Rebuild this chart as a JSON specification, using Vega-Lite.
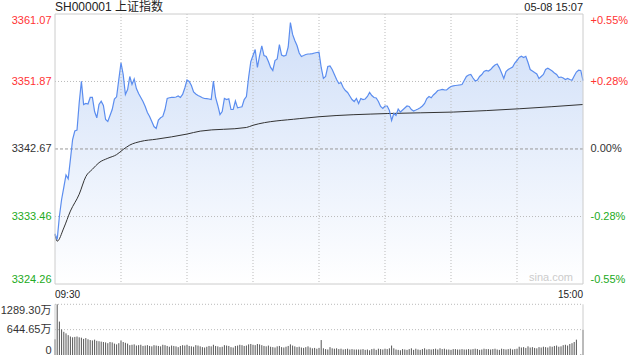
{
  "$schema": "https://vega.github.io/schema/vega-lite/v6.json",
  "width": 528,
  "height": 341,
  "autosize": {"type": "none"},
  "padding": {"left": 55, "top": 14, "right": 57, "bottom": 5},
  "background": "white",
  "config": {
    "view": {"stroke": null},
    "font": "Liberation Sans, Noto Sans CJK SC, sans-serif",
    "axis": {"labelFont": "Liberation Sans, Noto Sans CJK SC, sans-serif", "labelFontSize": 11, "labelColor": "#333333", "ticks": false, "domain": false, "grid": false, "title": null}
  },
  "datasets": {
    "m": [
      {"t":0,"p":3331.10,"v":400},{"t":1,"p":3330.33,"v":1289.3},{"t":2,"p":3333.50,"v":850},{"t":3,"p":3335.78,"v":650},{"t":4,"p":3337.42,"v":590},
      {"t":5,"p":3339.12,"v":550},{"t":6,"p":3338.60,"v":505},{"t":7,"p":3341.23,"v":470},{"t":8,"p":3343.96,"v":450},{"t":9,"p":3345.12,"v":460},
      {"t":10,"p":3345.23,"v":470},{"t":11,"p":3348.96,"v":450},{"t":12,"p":3351.91,"v":440},{"t":13,"p":3348.73,"v":410},{"t":14,"p":3348.87,"v":430},
      {"t":15,"p":3348.80,"v":400},{"t":16,"p":3349.69,"v":380},{"t":17,"p":3349.69,"v":370},{"t":18,"p":3347.78,"v":390},{"t":19,"p":3346.92,"v":360},
      {"t":20,"p":3348.73,"v":350},{"t":21,"p":3349.18,"v":340},{"t":22,"p":3348.60,"v":330},{"t":23,"p":3346.69,"v":320},{"t":24,"p":3346.41,"v":300},
      {"t":25,"p":3347.23,"v":330},{"t":26,"p":3348.05,"v":320},{"t":27,"p":3349.48,"v":290},{"t":28,"p":3349.78,"v":270},{"t":29,"p":3352.14,"v":300},
      {"t":30,"p":3354.42,"v":370},{"t":31,"p":3352.82,"v":330},{"t":32,"p":3350.10,"v":310},{"t":33,"p":3350.78,"v":290},{"t":34,"p":3352.55,"v":250},
      {"t":35,"p":3351.46,"v":260},{"t":36,"p":3352.21,"v":270},{"t":37,"p":3350.91,"v":240},{"t":38,"p":3350.23,"v":250},{"t":39,"p":3349.69,"v":260},
      {"t":40,"p":3349.14,"v":230},{"t":41,"p":3348.46,"v":240},{"t":42,"p":3347.64,"v":250},{"t":43,"p":3347.10,"v":230},{"t":44,"p":3346.41,"v":220},
      {"t":45,"p":3345.73,"v":250},{"t":46,"p":3345.46,"v":240},{"t":47,"p":3346.62,"v":230},{"t":48,"p":3346.92,"v":220},{"t":49,"p":3347.10,"v":260},
      {"t":50,"p":3348.05,"v":250},{"t":51,"p":3349.55,"v":230},{"t":52,"p":3349.65,"v":210},{"t":53,"p":3349.69,"v":240},{"t":54,"p":3349.69,"v":230},
      {"t":55,"p":3349.75,"v":220},{"t":56,"p":3349.89,"v":200},{"t":57,"p":3349.69,"v":230},{"t":58,"p":3350.10,"v":250},{"t":59,"p":3350.98,"v":240},
      {"t":60,"p":3352.07,"v":260},{"t":61,"p":3351.87,"v":230},{"t":62,"p":3351.32,"v":220},{"t":63,"p":3350.44,"v":210},{"t":64,"p":3350.16,"v":250},
      {"t":65,"p":3349.96,"v":240},{"t":66,"p":3349.82,"v":220},{"t":67,"p":3349.65,"v":200},{"t":68,"p":3349.55,"v":190},{"t":69,"p":3349.52,"v":210},
      {"t":70,"p":3349.48,"v":230},{"t":71,"p":3349.41,"v":220},{"t":72,"p":3351.91,"v":260},{"t":73,"p":3349.69,"v":230},{"t":74,"p":3348.60,"v":220},
      {"t":75,"p":3347.37,"v":200},{"t":76,"p":3347.78,"v":210},{"t":77,"p":3349.55,"v":250},{"t":78,"p":3349.41,"v":240},{"t":79,"p":3349.51,"v":230},
      {"t":80,"p":3348.05,"v":200},{"t":81,"p":3348.05,"v":190},{"t":82,"p":3349.21,"v":230},{"t":83,"p":3348.28,"v":240},{"t":84,"p":3348.36,"v":260},
      {"t":85,"p":3348.42,"v":250},{"t":86,"p":3349.41,"v":230},{"t":87,"p":3349.82,"v":240},{"t":88,"p":3352.41,"v":270},{"t":89,"p":3354.59,"v":280},
      {"t":90,"p":3355.41,"v":260},{"t":91,"p":3356.23,"v":250},{"t":92,"p":3353.78,"v":280},{"t":93,"p":3355.41,"v":270},{"t":94,"p":3356.71,"v":250},
      {"t":95,"p":3355.41,"v":230},{"t":96,"p":3355.28,"v":220},{"t":97,"p":3354.59,"v":240},{"t":98,"p":3353.78,"v":210},{"t":99,"p":3353.37,"v":200},
      {"t":100,"p":3354.73,"v":190},{"t":101,"p":3354.94,"v":220},{"t":102,"p":3356.91,"v":230},{"t":103,"p":3355.48,"v":200},{"t":104,"p":3355.34,"v":190},
      {"t":105,"p":3355.45,"v":210},{"t":106,"p":3356.57,"v":230},{"t":107,"p":3359.91,"v":270},{"t":108,"p":3358.28,"v":240},{"t":109,"p":3357.46,"v":220},
      {"t":110,"p":3356.78,"v":200},{"t":111,"p":3355.75,"v":210},{"t":112,"p":3355.28,"v":190},{"t":113,"p":3355.41,"v":180},{"t":114,"p":3355.55,"v":200},
      {"t":115,"p":3355.62,"v":220},{"t":116,"p":3355.64,"v":190},{"t":117,"p":3355.68,"v":170},{"t":118,"p":3355.75,"v":180},{"t":119,"p":3355.82,"v":160},
      {"t":120,"p":3355.86,"v":180},{"t":121,"p":3353.78,"v":380},{"t":122,"p":3352.28,"v":170},{"t":123,"p":3352.55,"v":150},{"t":124,"p":3353.91,"v":140},
      {"t":125,"p":3353.98,"v":200},{"t":126,"p":3353.50,"v":170},{"t":127,"p":3352.82,"v":160},{"t":128,"p":3352.14,"v":170},{"t":129,"p":3351.59,"v":150},
      {"t":130,"p":3351.73,"v":160},{"t":131,"p":3351.05,"v":140},{"t":132,"p":3350.64,"v":150},{"t":133,"p":3350.37,"v":160},{"t":134,"p":3349.89,"v":140},
      {"t":135,"p":3349.41,"v":150},{"t":136,"p":3349.14,"v":140},{"t":137,"p":3349.55,"v":140},{"t":138,"p":3348.87,"v":140},{"t":139,"p":3349.55,"v":140},
      {"t":140,"p":3349.41,"v":150},{"t":141,"p":3349.48,"v":130},{"t":142,"p":3349.82,"v":140},{"t":143,"p":3350.37,"v":120},{"t":144,"p":3349.96,"v":150},
      {"t":145,"p":3349.69,"v":160},{"t":146,"p":3349.62,"v":130},{"t":147,"p":3349.14,"v":160},{"t":148,"p":3348.46,"v":150},{"t":149,"p":3348.19,"v":140},
      {"t":150,"p":3348.53,"v":160},{"t":151,"p":3348.53,"v":150},{"t":152,"p":3347.91,"v":170},{"t":153,"p":3346.55,"v":240},{"t":154,"p":3347.51,"v":170},
      {"t":155,"p":3347.23,"v":140},{"t":156,"p":3348.12,"v":130},{"t":157,"p":3347.71,"v":120},{"t":158,"p":3347.98,"v":150},{"t":159,"p":3348.25,"v":140},
      {"t":160,"p":3348.53,"v":130},{"t":161,"p":3348.46,"v":150},{"t":162,"p":3348.05,"v":170},{"t":163,"p":3347.85,"v":130},{"t":164,"p":3347.98,"v":160},
      {"t":165,"p":3348.12,"v":140},{"t":166,"p":3348.28,"v":130},{"t":167,"p":3348.53,"v":150},{"t":168,"p":3348.87,"v":170},{"t":169,"p":3349.55,"v":140},
      {"t":170,"p":3349.82,"v":150},{"t":171,"p":3349.65,"v":140},{"t":172,"p":3350.03,"v":150},{"t":173,"p":3350.30,"v":160},{"t":174,"p":3350.64,"v":140},
      {"t":175,"p":3350.71,"v":170},{"t":176,"p":3350.78,"v":150},{"t":177,"p":3350.73,"v":160},{"t":178,"p":3350.71,"v":140},{"t":179,"p":3350.98,"v":140},
      {"t":180,"p":3351.19,"v":130},{"t":181,"p":3351.26,"v":150},{"t":182,"p":3351.32,"v":150},{"t":183,"p":3351.36,"v":140},{"t":184,"p":3351.40,"v":140},
      {"t":185,"p":3351.46,"v":150},{"t":186,"p":3352.00,"v":140},{"t":187,"p":3352.55,"v":140},{"t":188,"p":3352.75,"v":150},{"t":189,"p":3352.82,"v":140},
      {"t":190,"p":3352.34,"v":150},{"t":191,"p":3351.94,"v":160},{"t":192,"p":3352.07,"v":150},{"t":193,"p":3352.55,"v":130},{"t":194,"p":3352.82,"v":140},
      {"t":195,"p":3353.23,"v":160},{"t":196,"p":3353.37,"v":150},{"t":197,"p":3353.30,"v":150},{"t":198,"p":3353.50,"v":140},{"t":199,"p":3353.84,"v":150},
      {"t":200,"p":3354.12,"v":160},{"t":201,"p":3354.25,"v":140},{"t":202,"p":3353.73,"v":130},{"t":203,"p":3353.03,"v":160},{"t":204,"p":3352.28,"v":150},
      {"t":205,"p":3353.23,"v":140},{"t":206,"p":3353.50,"v":150},{"t":207,"p":3353.67,"v":160},{"t":208,"p":3353.84,"v":140},{"t":209,"p":3354.39,"v":150},
      {"t":210,"p":3354.73,"v":160},{"t":211,"p":3355.14,"v":210},{"t":212,"p":3355.32,"v":190},{"t":213,"p":3355.14,"v":200},{"t":214,"p":3355.30,"v":180},
      {"t":215,"p":3354.46,"v":220},{"t":216,"p":3353.50,"v":190},{"t":217,"p":3353.30,"v":200},{"t":218,"p":3353.09,"v":180},{"t":219,"p":3352.89,"v":170},
      {"t":220,"p":3352.28,"v":200},{"t":221,"p":3352.55,"v":190},{"t":222,"p":3352.82,"v":210},{"t":223,"p":3353.50,"v":200},{"t":224,"p":3353.67,"v":190},
      {"t":225,"p":3353.50,"v":220},{"t":226,"p":3353.30,"v":210},{"t":227,"p":3353.03,"v":230},{"t":228,"p":3352.82,"v":240},{"t":229,"p":3352.41,"v":210},
      {"t":230,"p":3352.48,"v":220},{"t":231,"p":3352.34,"v":250},{"t":232,"p":3352.14,"v":260},{"t":233,"p":3352.28,"v":240},{"t":234,"p":3352.14,"v":280},
      {"t":235,"p":3352.04,"v":300},{"t":236,"p":3352.62,"v":330},{"t":237,"p":3353.16,"v":390},{"t":238,"p":3353.41,"v":0},{"t":239,"p":3353.37,"v":15},
      {"t":240,"p":3352.00,"v":640}
    ],
    "avg": [
      {"t":0,"a":3331.0},{"t":1,"a":3330.1},{"t":4,"a":3331.9},{"t":7,"a":3334.2},{"t":11,"a":3336.5},{"t":14,"a":3338.9},
      {"t":17,"a":3339.9},{"t":20,"a":3340.8},{"t":24,"a":3341.4},{"t":28,"a":3341.9},{"t":31,"a":3342.6},{"t":34,"a":3343.2},
      {"t":39,"a":3343.7},{"t":46,"a":3344.0},{"t":60,"a":3344.7},{"t":66,"a":3345.1},{"t":87,"a":3345.6},{"t":90,"a":3345.9},
      {"t":111,"a":3346.8},{"t":120,"a":3347.06},{"t":151,"a":3347.5},{"t":181,"a":3347.7},{"t":211,"a":3348.15},{"t":240,"a":3348.73}
    ],
    "vg": [{"t":30},{"t":60},{"t":90},{"t":120},{"t":150},{"t":180},{"t":210}]
  },
  "layer": [
    {
      "data": {"name": "m"},
      "mark": {"type": "area", "color": {"gradient": "linear", "x1": 0, "y1": 0, "x2": 0, "y2": 1, "stops": [{"offset": 0, "color": "#d0dff8"}, {"offset": 1, "color": "#ffffff"}]}},
      "encoding": {
        "x": {"field": "t", "type": "quantitative", "scale": {"domain": [0, 240], "nice": false, "zero": false}, "axis": null},
        "y": {"field": "p", "type": "quantitative", "scale": {"domain": [3324.26, 3361.07], "range": [270, 0], "nice": false, "zero": false},
              "axis": {"orient": "left", "values": [3324.26, 3333.46, 3342.67, 3351.87, 3361.07], "format": ".2f", "labelFlush": true, "labelPadding": 4,
                       "labelColor": {"condition": [{"test": "datum.value > 3343", "value": "#ff3333"}, {"test": "datum.value < 3342", "value": "#22aa22"}], "value": "#333333"}}},
        "y2": {"datum": 3324.26}
      }
    },
    {
      "data": {"name": "vg"},
      "mark": {"type": "rule", "color": "#bbbbbb", "strokeDash": [1, 2], "strokeWidth": 1},
      "encoding": {
        "x": {"field": "t", "type": "quantitative", "axis": null},
        "y": {"datum": 3361.07, "type": "quantitative", "scale": {"domain": [3324.26, 3361.07], "range": [270, 0], "nice": false, "zero": false}, "axis": null},
        "y2": {"datum": 3324.26}
      }
    },
    {
      "data": {"values": [{"lv": 3351.87}, {"lv": 3333.46}]},
      "mark": {"type": "rule", "color": "#bbbbbb", "strokeDash": [1, 2], "strokeWidth": 1},
      "encoding": {
        "y": {"field": "lv", "type": "quantitative", "scale": {"domain": [3324.26, 3361.07], "range": [270, 0], "nice": false, "zero": false}, "axis": null},
        "x": {"datum": 0, "type": "quantitative", "axis": null},
        "x2": {"datum": 240}
      }
    },
    {
      "data": {"values": [{"lv": 3342.67}]},
      "mark": {"type": "rule", "color": "#999999", "strokeDash": [3, 2], "strokeWidth": 1},
      "encoding": {
        "y": {"field": "lv", "type": "quantitative", "scale": {"domain": [3324.26, 3361.07], "range": [270, 0], "nice": false, "zero": false}, "axis": null},
        "x": {"datum": 0, "type": "quantitative", "axis": null},
        "x2": {"datum": 240}
      }
    },
    {
      "data": {"name": "avg"},
      "mark": {"type": "line", "color": "#333333", "strokeWidth": 1, "interpolate": "monotone"},
      "encoding": {
        "x": {"field": "t", "type": "quantitative", "axis": null},
        "y": {"field": "a", "type": "quantitative", "scale": {"domain": [3324.26, 3361.07], "range": [270, 0], "nice": false, "zero": false}, "axis": null}
      }
    },
    {
      "data": {"name": "m"},
      "mark": {"type": "line", "color": "#5b8def", "strokeWidth": 1.2},
      "encoding": {
        "x": {"field": "t", "type": "quantitative", "axis": null},
        "y": {"field": "p", "type": "quantitative", "scale": {"domain": [3324.26, 3361.07], "range": [270, 0], "nice": false, "zero": false}, "axis": null}
      }
    },
    {
      "data": {"values": [{}]},
      "mark": {"type": "rect", "filled": false, "stroke": "#cccccc", "strokeWidth": 1},
      "encoding": {
        "x": {"datum": 0, "type": "quantitative", "axis": null},
        "x2": {"datum": 240},
        "y": {"datum": 3361.07, "type": "quantitative", "scale": {"domain": [3324.26, 3361.07], "range": [270, 0], "nice": false, "zero": false},
              "axis": {"orient": "right", "values": [3324.26, 3333.46, 3342.67, 3351.87, 3361.07], "labelFlush": true, "labelPadding": 7,
                       "labelExpr": "datum.value > 3360 ? '+0.55%' : datum.value > 3350 ? '+0.28%' : datum.value > 3340 ? '0.00%' : datum.value > 3330 ? '-0.28%' : '-0.55%'",
                       "labelColor": {"condition": [{"test": "datum.value > 3343", "value": "#ff3333"}, {"test": "datum.value < 3342", "value": "#22aa22"}], "value": "#333333"}}},
        "y2": {"datum": 3324.26}
      }
    },
    {
      "data": {"values": [{"label": "SH000001 上证指数", "t": 0, "align": "l"}, {"label": "05-08 15:07", "t": 240, "align": "r"}]},
      "transform": [{"filter": "datum.align == 'l'"}],
      "mark": {"type": "text", "align": "left", "baseline": "alphabetic", "dy": -3, "fontSize": 12, "color": "#222222"},
      "encoding": {
        "x": {"field": "t", "type": "quantitative", "axis": null},
        "y": {"datum": 3361.07, "type": "quantitative", "scale": {"domain": [3324.26, 3361.07], "range": [270, 0], "nice": false, "zero": false}, "axis": null},
        "text": {"field": "label"}
      }
    },
    {
      "data": {"values": [{"label": "05-08 15:07", "t": 240}]},
      "mark": {"type": "text", "align": "right", "baseline": "alphabetic", "dy": -3, "fontSize": 11, "color": "#222222"},
      "encoding": {
        "x": {"field": "t", "type": "quantitative", "axis": null},
        "y": {"datum": 3361.07, "type": "quantitative", "scale": {"domain": [3324.26, 3361.07], "range": [270, 0], "nice": false, "zero": false}, "axis": null},
        "text": {"field": "label"}
      }
    },
    {
      "data": {"values": [{"label": "sina.com", "t": 240}]},
      "mark": {"type": "text", "align": "right", "baseline": "bottom", "dx": -10, "dy": -1, "fontSize": 11, "color": "#cccccc"},
      "encoding": {
        "x": {"field": "t", "type": "quantitative", "axis": null},
        "y": {"datum": 3324.26, "type": "quantitative", "scale": {"domain": [3324.26, 3361.07], "range": [270, 0], "nice": false, "zero": false}, "axis": null},
        "text": {"field": "label"}
      }
    },
    {
      "data": {"values": [{"label": "09:30", "t": 0}]},
      "mark": {"type": "text", "align": "left", "baseline": "top", "dy": 6, "fontSize": 10, "color": "#222222"},
      "encoding": {
        "x": {"field": "t", "type": "quantitative", "axis": null},
        "y": {"datum": 3324.26, "type": "quantitative", "scale": {"domain": [3324.26, 3361.07], "range": [270, 0], "nice": false, "zero": false}, "axis": null},
        "text": {"field": "label"}
      }
    },
    {
      "data": {"values": [{"label": "15:00", "t": 240}]},
      "mark": {"type": "text", "align": "right", "baseline": "top", "dy": 6, "fontSize": 10, "color": "#222222"},
      "encoding": {
        "x": {"field": "t", "type": "quantitative", "axis": null},
        "y": {"datum": 3324.26, "type": "quantitative", "scale": {"domain": [3324.26, 3361.07], "range": [270, 0], "nice": false, "zero": false}, "axis": null},
        "text": {"field": "label"}
      }
    },
    {
      "data": {"values": [{"lv": 1289.3}, {"lv": 644.65}]},
      "mark": {"type": "rule", "color": "#bbbbbb", "strokeDash": [1, 2], "strokeWidth": 1},
      "encoding": {
        "y": {"field": "lv", "type": "quantitative", "scale": {"domain": [0, 1289.3], "range": [341, 290.3], "nice": false, "zero": true}, "axis": null},
        "x": {"datum": 0, "type": "quantitative", "axis": null},
        "x2": {"datum": 240}
      }
    },
    {
      "data": {"name": "m"},
      "mark": {"type": "rule", "color": "#555555", "strokeWidth": 1},
      "encoding": {
        "x": {"field": "t", "type": "quantitative", "axis": null},
        "y": {"field": "v", "type": "quantitative", "scale": {"domain": [0, 1289.3], "range": [341, 290.3], "nice": false, "zero": true},
              "axis": {"orient": "left", "values": [0, 644.65, 1289.3], "labelFlush": true, "labelPadding": 4,
                       "labelExpr": "datum.value < 1 ? '0' : datum.value > 1000 ? '1289.30万' : '644.65万'"}},
        "y2": {"datum": 0}
      }
    },
    {
      "data": {"values": [{"t": 0}, {"t": 240}]},
      "mark": {"type": "rule", "color": "#cccccc", "strokeWidth": 1},
      "encoding": {
        "x": {"field": "t", "type": "quantitative", "axis": null},
        "y": {"datum": 0, "type": "quantitative", "scale": {"domain": [0, 1289.3], "range": [341, 290.3], "nice": false, "zero": true}, "axis": null},
        "y2": {"datum": 1289.3}
      }
    }
  ],
  "resolve": {"scale": {"y": "independent"}}
}
